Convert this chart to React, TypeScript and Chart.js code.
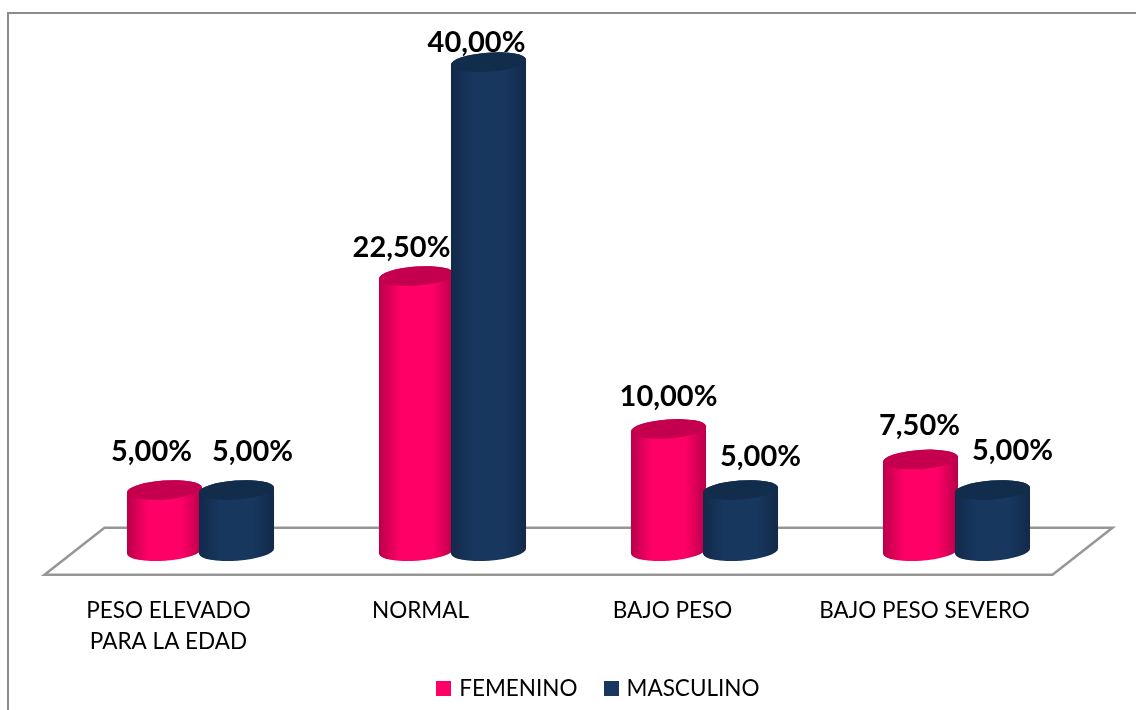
import React, { useEffect, useRef } from "react";
import { Chart, registerables } from "chart.js";

Chart.register(...registerables);

const categories = [["PESO ELEVADO", "PARA LA EDAD"], "NORMAL", "BAJO PESO", "BAJO PESO SEVERO"];
const femenino = [5, 22.5, 10, 7.5];
const masculino = [5, 40, 5, 5];

// Hand-placed label nudges, [dx, dy] from the top of each cylinder.
const femeninoNudges = [[-13, -38], [-15, -28], [0, -32], [-1, -34]];
const masculinoNudges = [[16, -38], [-12, -19], [20, -33], [20, -39]];

const FONT = "Lato, Carlito, Calibri, sans-serif";
const LINE = "#969696";
const PINK = "#ff0066";
const NAVY = "#17375e";

const SKEW = 30;
const FLOOR_DEPTH = 23.5;
const TILT = -0.07;
const CAP_RY = 9.5;
const SWATCH = 15;
// The legend's item spacing also inflates its box, so that height is handed back.
const LEGEND_SLACK = 45;

const palette = [
  { edge: "#b8004a", mid: PINK, cap: "#c4004e" },
  { edge: "#12294a", mid: NAVY, cap: "#122c4b" },
];

const percent = (v: number) => v.toFixed(2).replace(".", ",") + "%";

function swatch(color: string) {
  const c = document.createElement("canvas");
  c.width = SWATCH;
  c.height = SWATCH;
  const g = c.getContext("2d")!;
  g.fillStyle = color;
  g.fillRect(0, 0, SWATCH, SWATCH);
  return c;
}

const frame = {
  id: "frame",
  beforeDraw(chart: any) {
    const { ctx, width, height } = chart;
    ctx.save();
    ctx.fillStyle = "#ffffff";
    ctx.fillRect(0, 0, width, height);
    ctx.strokeStyle = "#8c8c8c";
    ctx.lineWidth = 2;
    ctx.beginPath();
    ctx.moveTo(8, height);
    ctx.lineTo(8, 13);
    ctx.lineTo(width, 13);
    ctx.stroke();
    ctx.restore();
  },
};

const floor = {
  id: "floor",
  beforeDatasetsDraw(chart: any) {
    const { ctx, chartArea: a } = chart;
    ctx.save();
    ctx.strokeStyle = LINE;
    ctx.lineWidth = 2.5;
    ctx.lineJoin = "miter";
    ctx.beginPath();
    ctx.moveTo(a.left - SKEW, a.bottom + FLOOR_DEPTH);
    ctx.lineTo(a.right - SKEW, a.bottom + FLOOR_DEPTH);
    ctx.lineTo(a.right + SKEW, a.bottom - FLOOR_DEPTH);
    ctx.lineTo(a.left + SKEW, a.bottom - FLOOR_DEPTH);
    ctx.closePath();
    ctx.stroke();
    ctx.restore();
  },
};

// Replaces the flat bars with shaded cylinders sized from each bar element,
// painting the second series over the first where they overlap.
const cylinders = {
  id: "cylinders",
  beforeDatasetsDraw(chart: any) {
    const { ctx } = chart;
    chart.data.datasets.forEach((_: any, d: number) => {
      const colors = palette[d];
      chart.getDatasetMeta(d).data.forEach((bar: any) => {
        const rx = bar.width / 2;
        const left = bar.x - rx;
        const right = bar.x + rx;
        const grad = ctx.createLinearGradient(left, 0, right, 0);
        grad.addColorStop(0, colors.edge);
        grad.addColorStop(0.28, colors.mid);
        grad.addColorStop(0.72, colors.mid);
        grad.addColorStop(1, colors.edge);
        ctx.save();
        ctx.fillStyle = grad;
        ctx.beginPath();
        ctx.ellipse(bar.x, bar.base, rx, CAP_RY, TILT, 0, Math.PI);
        ctx.ellipse(bar.x, bar.y, rx, CAP_RY, TILT, Math.PI, Math.PI * 2);
        ctx.closePath();
        ctx.fill();
        ctx.fillStyle = colors.cap;
        ctx.beginPath();
        ctx.ellipse(bar.x, bar.y, rx, CAP_RY, TILT, 0, Math.PI * 2);
        ctx.fill();
        ctx.restore();
      });
    });
  },
  beforeDatasetDraw() {
    return false;
  },
};

const valueLabels = {
  id: "valueLabels",
  afterDatasetsDraw(chart: any) {
    const { ctx } = chart;
    const nudges = [femeninoNudges, masculinoNudges];
    ctx.save();
    ctx.fillStyle = "#000000";
    ctx.font = `bold 29px ${FONT}`;
    ctx.textAlign = "center";
    ctx.textBaseline = "middle";
    chart.data.datasets.forEach((ds: any, d: number) => {
      chart.getDatasetMeta(d).data.forEach((bar: any, i: number) => {
        ctx.fillText(percent(ds.data[i]), bar.x + nudges[d][i][0], bar.y + nudges[d][i][1]);
      });
    });
    ctx.restore();
  },
};

// The legend sits right of the plot's centre because of the floor's perspective.
const legendShift = {
  id: "legendShift",
  afterLayout(chart: any) {
    const legend = chart.legend;
    legend.left += 21;
    legend.right += 21;
    legend.top -= LEGEND_SLACK;
    legend.bottom -= LEGEND_SLACK;
  },
};

export default function App() {
  const ref = useRef<HTMLCanvasElement>(null);
  useEffect(() => {
    const swatches = [swatch(PINK), swatch(NAVY)];
    const chart = new Chart(ref.current!, {
      type: "bar",
      data: {
        labels: categories as any,
        datasets: [
          { label: "FEMENINO", data: femenino, backgroundColor: PINK },
          { label: "MASCULINO", data: masculino, backgroundColor: NAVY },
        ],
      },
      options: {
        animation: false,
        responsive: false,
        categoryPercentage: 144 / 252,
        barPercentage: 1.045,
        layout: { padding: { left: 74.5, right: 53.5, top: 1, bottom: -LEGEND_SLACK } },
        scales: {
          x: {
            grid: { display: false },
            border: { display: false },
            ticks: {
              color: "#000000",
              font: { family: FONT, size: 22.5, lineHeight: 1.38 },
              labelOffset: -32,
              padding: 36,
              maxRotation: 0,
              autoSkip: false,
            },
          },
          y: { display: false, min: 0, max: 45 },
        },
        plugins: {
          legend: {
            position: "bottom",
            labels: {
              color: "#000000",
              font: { family: FONT, size: 22.5 },
              usePointStyle: true,
              pointStyleWidth: 8.5,
              padding: 29.25,
              generateLabels(c: any) {
                return Chart.defaults.plugins.legend.labels
                  .generateLabels(c)
                  .map((item: any, i: number) => ({ ...item, pointStyle: swatches[i] }));
              },
            },
          },
          tooltip: { enabled: false },
        },
      } as any,
      plugins: [frame, floor, cylinders, valueLabels, legendShift],
    });
    return () => chart.destroy();
  }, []);
  return (
    <div style={{ position: "absolute", left: 0, top: 0 }}>
      <canvas ref={ref} width={1136} height={710} style={{ display: "block" }} />
    </div>
  );
}
